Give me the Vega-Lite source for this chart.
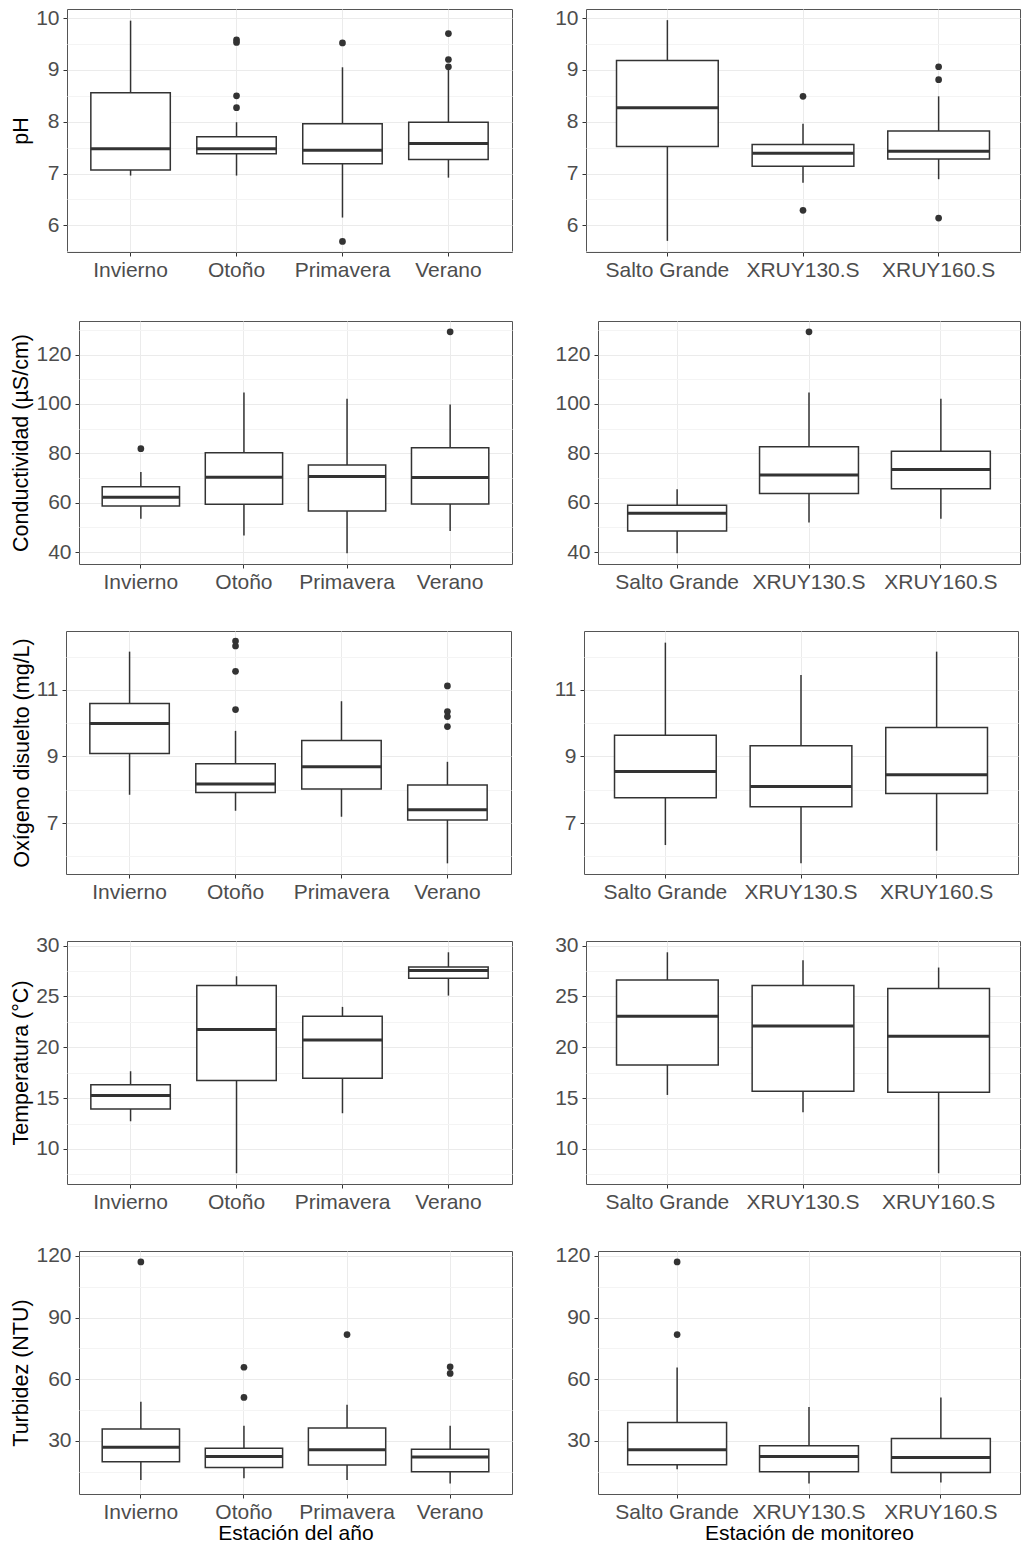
{
"$schema": "https://vega.github.io/schema/vega-lite/v6.json",
"background": "white",
"padding": {"left": 9, "top": 6, "right": 0, "bottom": 0},
"datasets": {
"box": [
{"v":"ph","c":"L","g":"Invierno","lo":6.96,"q1":7.07,"med":7.48,"q3":8.56,"hi":9.95},
{"v":"ph","c":"L","g":"Otoño","lo":6.96,"q1":7.38,"med":7.48,"q3":7.71,"hi":7.99},
{"v":"ph","c":"L","g":"Primavera","lo":6.15,"q1":7.19,"med":7.45,"q3":7.96,"hi":9.05},
{"v":"ph","c":"L","g":"Verano","lo":6.92,"q1":7.27,"med":7.58,"q3":7.99,"hi":9.03},
{"v":"ph","c":"R","g":"Salto Grande","lo":5.70,"q1":7.52,"med":8.27,"q3":9.18,"hi":9.96},
{"v":"ph","c":"R","g":"XRUY130.S","lo":6.82,"q1":7.14,"med":7.39,"q3":7.56,"hi":7.96},
{"v":"ph","c":"R","g":"XRUY160.S","lo":6.89,"q1":7.28,"med":7.43,"q3":7.82,"hi":8.49},
{"v":"cond","c":"L","g":"Invierno","lo":53.5,"q1":58.7,"med":62.2,"q3":66.5,"hi":72.5},
{"v":"cond","c":"L","g":"Otoño","lo":46.7,"q1":59.4,"med":70.3,"q3":80.3,"hi":104.6},
{"v":"cond","c":"L","g":"Primavera","lo":39.6,"q1":56.7,"med":70.6,"q3":75.3,"hi":102.1},
{"v":"cond","c":"L","g":"Verano","lo":48.6,"q1":59.5,"med":70.2,"q3":82.3,"hi":99.8},
{"v":"cond","c":"R","g":"Salto Grande","lo":39.6,"q1":48.6,"med":55.8,"q3":59.0,"hi":65.5},
{"v":"cond","c":"R","g":"XRUY130.S","lo":52.0,"q1":63.7,"med":71.2,"q3":82.7,"hi":104.6},
{"v":"cond","c":"R","g":"XRUY160.S","lo":53.5,"q1":65.7,"med":73.5,"q3":80.9,"hi":102.1},
{"v":"oxy","c":"L","g":"Invierno","lo":7.85,"q1":9.09,"med":9.99,"q3":10.59,"hi":12.15},
{"v":"oxy","c":"L","g":"Otoño","lo":7.37,"q1":7.92,"med":8.17,"q3":8.78,"hi":9.77},
{"v":"oxy","c":"L","g":"Primavera","lo":7.19,"q1":8.02,"med":8.69,"q3":9.48,"hi":10.66},
{"v":"oxy","c":"L","g":"Verano","lo":5.79,"q1":7.09,"med":7.40,"q3":8.14,"hi":8.84},
{"v":"oxy","c":"R","g":"Salto Grande","lo":6.34,"q1":7.76,"med":8.55,"q3":9.64,"hi":12.42},
{"v":"oxy","c":"R","g":"XRUY130.S","lo":5.79,"q1":7.49,"med":8.10,"q3":9.32,"hi":11.45},
{"v":"oxy","c":"R","g":"XRUY160.S","lo":6.17,"q1":7.89,"med":8.45,"q3":9.87,"hi":12.15},
{"v":"temp","c":"L","g":"Invierno","lo":12.72,"q1":13.93,"med":15.25,"q3":16.30,"hi":17.64},
{"v":"temp","c":"L","g":"Otoño","lo":7.61,"q1":16.72,"med":21.74,"q3":26.07,"hi":26.98},
{"v":"temp","c":"L","g":"Primavera","lo":13.51,"q1":16.95,"med":20.72,"q3":23.05,"hi":23.97},
{"v":"temp","c":"L","g":"Verano","lo":25.08,"q1":26.79,"med":27.54,"q3":27.90,"hi":29.34},
{"v":"temp","c":"R","g":"Salto Grande","lo":15.31,"q1":18.26,"med":23.05,"q3":26.62,"hi":29.34},
{"v":"temp","c":"R","g":"XRUY130.S","lo":13.61,"q1":15.67,"med":22.10,"q3":26.07,"hi":28.56},
{"v":"temp","c":"R","g":"XRUY160.S","lo":7.61,"q1":15.57,"med":21.08,"q3":25.77,"hi":27.84},
{"v":"turb","c":"L","g":"Invierno","lo":10.9,"q1":19.8,"med":26.8,"q3":35.8,"hi":49.0},
{"v":"turb","c":"L","g":"Otoño","lo":11.8,"q1":17.0,"med":22.4,"q3":26.4,"hi":37.3},
{"v":"turb","c":"L","g":"Primavera","lo":10.9,"q1":18.2,"med":25.6,"q3":36.2,"hi":47.5},
{"v":"turb","c":"L","g":"Verano","lo":9.2,"q1":14.9,"med":22.1,"q3":25.9,"hi":37.3},
{"v":"turb","c":"R","g":"Salto Grande","lo":16.2,"q1":18.3,"med":25.6,"q3":38.9,"hi":65.7},
{"v":"turb","c":"R","g":"XRUY130.S","lo":9.2,"q1":14.9,"med":22.4,"q3":27.6,"hi":46.4},
{"v":"turb","c":"R","g":"XRUY160.S","lo":9.7,"q1":14.6,"med":21.9,"q3":31.1,"hi":51.1}
],
"out": [
{"v":"ph","c":"L","g":"Otoño","val":9.58},
{"v":"ph","c":"L","g":"Otoño","val":9.53},
{"v":"ph","c":"L","g":"Otoño","val":8.50},
{"v":"ph","c":"L","g":"Otoño","val":8.27},
{"v":"ph","c":"L","g":"Primavera","val":9.52},
{"v":"ph","c":"L","g":"Primavera","val":5.69},
{"v":"ph","c":"L","g":"Verano","val":9.70},
{"v":"ph","c":"L","g":"Verano","val":9.20},
{"v":"ph","c":"L","g":"Verano","val":9.06},
{"v":"ph","c":"R","g":"XRUY130.S","val":8.49},
{"v":"ph","c":"R","g":"XRUY130.S","val":6.29},
{"v":"ph","c":"R","g":"XRUY160.S","val":9.06},
{"v":"ph","c":"R","g":"XRUY160.S","val":8.81},
{"v":"ph","c":"R","g":"XRUY160.S","val":6.14},
{"v":"cond","c":"L","g":"Invierno","val":81.9},
{"v":"cond","c":"L","g":"Verano","val":129.2},
{"v":"cond","c":"R","g":"XRUY130.S","val":129.2},
{"v":"oxy","c":"L","g":"Otoño","val":12.47},
{"v":"oxy","c":"L","g":"Otoño","val":12.32},
{"v":"oxy","c":"L","g":"Otoño","val":11.56},
{"v":"oxy","c":"L","g":"Otoño","val":10.41},
{"v":"oxy","c":"L","g":"Verano","val":11.12},
{"v":"oxy","c":"L","g":"Verano","val":10.35},
{"v":"oxy","c":"L","g":"Verano","val":10.2},
{"v":"oxy","c":"L","g":"Verano","val":9.9},
{"v":"turb","c":"L","g":"Invierno","val":117.1},
{"v":"turb","c":"L","g":"Otoño","val":65.8},
{"v":"turb","c":"L","g":"Otoño","val":51.1},
{"v":"turb","c":"L","g":"Primavera","val":81.7},
{"v":"turb","c":"L","g":"Verano","val":66.0},
{"v":"turb","c":"L","g":"Verano","val":62.8},
{"v":"turb","c":"R","g":"Salto Grande","val":117.1},
{"v":"turb","c":"R","g":"Salto Grande","val":81.7}
],
"empty": []
},
"columns": 1,
"spacing": 31,
"concat": [
{"columns": 1, "spacing": 37, "concat": [
{"spacing": 0, "hconcat": [
{"width":1,"height":1,"data":{"name":"empty"},"mark":"point","view":{"stroke":null}},
{"spacing": 41, "hconcat": [
{"width":445,"height":243,
"encoding":{"x":{"field":"g","type":"nominal","scale":{"domain":["Invierno","Otoño","Primavera","Verano"],"paddingInner":0,"paddingOuter":0.1},"axis":{"title":null,"labelAngle":0,"grid":true,"bandPosition":0.5}}},
"layer":[
{"data":{"name":"box"},"transform":[{"filter":"datum.v==='ph'&&datum.c==='L'"}],"mark":{"type":"rule","color":"#333333","strokeWidth":1.5},"encoding":{"y":{"field":"lo","type":"quantitative","scale":{"domain":[5.485,10.175],"nice":false,"zero":false},"axis":{"title":"pH","values":[5.5,6,6.5,7,7.5,8,8.5,9,9.5,10],"labelOverlap":false,"labelExpr":"abs(datum.value-round(datum.value))<0.01?format(datum.value,'d'):''","tickOpacity":{"condition":{"test":"abs(datum.value-round(datum.value))>=0.01","value":0},"value":1},"gridColor":{"condition":{"test":"abs(datum.value-round(datum.value))>=0.01","value":"#F4F4F4"},"value":"#EBEBEB"}}},"y2":{"field":"hi"}}},
{"data":{"name":"box"},"transform":[{"filter":"datum.v==='ph'&&datum.c==='L'"}],"mark":{"type":"bar","fill":"#ffffff","stroke":"#333333","strokeWidth":1.5,"width":{"band":0.75}},"encoding":{"y":{"field":"q1","type":"quantitative","scale":{"domain":[5.485,10.175],"nice":false,"zero":false},"axis":{"title":"pH","values":[5.5,6,6.5,7,7.5,8,8.5,9,9.5,10],"labelOverlap":false,"labelExpr":"abs(datum.value-round(datum.value))<0.01?format(datum.value,'d'):''","tickOpacity":{"condition":{"test":"abs(datum.value-round(datum.value))>=0.01","value":0},"value":1},"gridColor":{"condition":{"test":"abs(datum.value-round(datum.value))>=0.01","value":"#F4F4F4"},"value":"#EBEBEB"}}},"y2":{"field":"q3"}}},
{"data":{"name":"box"},"transform":[{"filter":"datum.v==='ph'&&datum.c==='L'"}],"mark":{"type":"tick","color":"#333333","thickness":3,"opacity":1,"size":79.5},"encoding":{"y":{"field":"med","type":"quantitative","scale":{"domain":[5.485,10.175],"nice":false,"zero":false},"axis":{"title":"pH","values":[5.5,6,6.5,7,7.5,8,8.5,9,9.5,10],"labelOverlap":false,"labelExpr":"abs(datum.value-round(datum.value))<0.01?format(datum.value,'d'):''","tickOpacity":{"condition":{"test":"abs(datum.value-round(datum.value))>=0.01","value":0},"value":1},"gridColor":{"condition":{"test":"abs(datum.value-round(datum.value))>=0.01","value":"#F4F4F4"},"value":"#EBEBEB"}}}}},
{"data":{"name":"out"},"transform":[{"filter":"datum.v==='ph'&&datum.c==='L'"}],"mark":{"type":"point","filled":true,"color":"#333333","size":45,"opacity":1},"encoding":{"y":{"field":"val","type":"quantitative","scale":{"domain":[5.485,10.175],"nice":false,"zero":false},"axis":{"title":"pH","values":[5.5,6,6.5,7,7.5,8,8.5,9,9.5,10],"labelOverlap":false,"labelExpr":"abs(datum.value-round(datum.value))<0.01?format(datum.value,'d'):''","tickOpacity":{"condition":{"test":"abs(datum.value-round(datum.value))>=0.01","value":0},"value":1},"gridColor":{"condition":{"test":"abs(datum.value-round(datum.value))>=0.01","value":"#F4F4F4"},"value":"#EBEBEB"}}}}}
]},
{"width":434,"height":243,
"encoding":{"x":{"field":"g","type":"nominal","scale":{"domain":["Salto Grande","XRUY130.S","XRUY160.S"],"paddingInner":0,"paddingOuter":0.1},"axis":{"title":null,"labelAngle":0,"grid":true,"bandPosition":0.5}}},
"layer":[
{"data":{"name":"box"},"transform":[{"filter":"datum.v==='ph'&&datum.c==='R'"}],"mark":{"type":"rule","color":"#333333","strokeWidth":1.5},"encoding":{"y":{"field":"lo","type":"quantitative","scale":{"domain":[5.485,10.175],"nice":false,"zero":false},"axis":{"title":null,"values":[5.5,6,6.5,7,7.5,8,8.5,9,9.5,10],"labelOverlap":false,"labelExpr":"abs(datum.value-round(datum.value))<0.01?format(datum.value,'d'):''","tickOpacity":{"condition":{"test":"abs(datum.value-round(datum.value))>=0.01","value":0},"value":1},"gridColor":{"condition":{"test":"abs(datum.value-round(datum.value))>=0.01","value":"#F4F4F4"},"value":"#EBEBEB"}}},"y2":{"field":"hi"}}},
{"data":{"name":"box"},"transform":[{"filter":"datum.v==='ph'&&datum.c==='R'"}],"mark":{"type":"bar","fill":"#ffffff","stroke":"#333333","strokeWidth":1.5,"width":{"band":0.75}},"encoding":{"y":{"field":"q1","type":"quantitative","scale":{"domain":[5.485,10.175],"nice":false,"zero":false},"axis":{"title":null,"values":[5.5,6,6.5,7,7.5,8,8.5,9,9.5,10],"labelOverlap":false,"labelExpr":"abs(datum.value-round(datum.value))<0.01?format(datum.value,'d'):''","tickOpacity":{"condition":{"test":"abs(datum.value-round(datum.value))>=0.01","value":0},"value":1},"gridColor":{"condition":{"test":"abs(datum.value-round(datum.value))>=0.01","value":"#F4F4F4"},"value":"#EBEBEB"}}},"y2":{"field":"q3"}}},
{"data":{"name":"box"},"transform":[{"filter":"datum.v==='ph'&&datum.c==='R'"}],"mark":{"type":"tick","color":"#333333","thickness":3,"opacity":1,"size":101.7},"encoding":{"y":{"field":"med","type":"quantitative","scale":{"domain":[5.485,10.175],"nice":false,"zero":false},"axis":{"title":null,"values":[5.5,6,6.5,7,7.5,8,8.5,9,9.5,10],"labelOverlap":false,"labelExpr":"abs(datum.value-round(datum.value))<0.01?format(datum.value,'d'):''","tickOpacity":{"condition":{"test":"abs(datum.value-round(datum.value))>=0.01","value":0},"value":1},"gridColor":{"condition":{"test":"abs(datum.value-round(datum.value))>=0.01","value":"#F4F4F4"},"value":"#EBEBEB"}}}}},
{"data":{"name":"out"},"transform":[{"filter":"datum.v==='ph'&&datum.c==='R'"}],"mark":{"type":"point","filled":true,"color":"#333333","size":45,"opacity":1},"encoding":{"y":{"field":"val","type":"quantitative","scale":{"domain":[5.485,10.175],"nice":false,"zero":false},"axis":{"title":null,"values":[5.5,6,6.5,7,7.5,8,8.5,9,9.5,10],"labelOverlap":false,"labelExpr":"abs(datum.value-round(datum.value))<0.01?format(datum.value,'d'):''","tickOpacity":{"condition":{"test":"abs(datum.value-round(datum.value))>=0.01","value":0},"value":1},"gridColor":{"condition":{"test":"abs(datum.value-round(datum.value))>=0.01","value":"#F4F4F4"},"value":"#EBEBEB"}}}}}
]}
]}
]},
{"spacing": 0, "hconcat": [
{"width":1,"height":1,"data":{"name":"empty"},"mark":"point","view":{"stroke":null}},
{"spacing": 41, "hconcat": [
{"width":433,"height":243,
"encoding":{"x":{"field":"g","type":"nominal","scale":{"domain":["Invierno","Otoño","Primavera","Verano"],"paddingInner":0,"paddingOuter":0.1},"axis":{"title":null,"labelAngle":0,"grid":true,"bandPosition":0.5}}},
"layer":[
{"data":{"name":"box"},"transform":[{"filter":"datum.v==='cond'&&datum.c==='L'"}],"mark":{"type":"rule","color":"#333333","strokeWidth":1.5},"encoding":{"y":{"field":"lo","type":"quantitative","scale":{"domain":[35.2,133.6],"nice":false,"zero":false},"axis":{"title":"Conductividad (µS/cm)","values":[40,50,60,70,80,90,100,110,120,130],"labelOverlap":false,"labelExpr":"abs(datum.value%20)<0.01?format(datum.value,'d'):''","tickOpacity":{"condition":{"test":"abs(datum.value%20)>=0.01","value":0},"value":1},"gridColor":{"condition":{"test":"abs(datum.value%20)>=0.01","value":"#F4F4F4"},"value":"#EBEBEB"}}},"y2":{"field":"hi"}}},
{"data":{"name":"box"},"transform":[{"filter":"datum.v==='cond'&&datum.c==='L'"}],"mark":{"type":"bar","fill":"#ffffff","stroke":"#333333","strokeWidth":1.5,"width":{"band":0.75}},"encoding":{"y":{"field":"q1","type":"quantitative","scale":{"domain":[35.2,133.6],"nice":false,"zero":false},"axis":{"title":"Conductividad (µS/cm)","values":[40,50,60,70,80,90,100,110,120,130],"labelOverlap":false,"labelExpr":"abs(datum.value%20)<0.01?format(datum.value,'d'):''","tickOpacity":{"condition":{"test":"abs(datum.value%20)>=0.01","value":0},"value":1},"gridColor":{"condition":{"test":"abs(datum.value%20)>=0.01","value":"#F4F4F4"},"value":"#EBEBEB"}}},"y2":{"field":"q3"}}},
{"data":{"name":"box"},"transform":[{"filter":"datum.v==='cond'&&datum.c==='L'"}],"mark":{"type":"tick","color":"#333333","thickness":3,"opacity":1,"size":77.3},"encoding":{"y":{"field":"med","type":"quantitative","scale":{"domain":[35.2,133.6],"nice":false,"zero":false},"axis":{"title":"Conductividad (µS/cm)","values":[40,50,60,70,80,90,100,110,120,130],"labelOverlap":false,"labelExpr":"abs(datum.value%20)<0.01?format(datum.value,'d'):''","tickOpacity":{"condition":{"test":"abs(datum.value%20)>=0.01","value":0},"value":1},"gridColor":{"condition":{"test":"abs(datum.value%20)>=0.01","value":"#F4F4F4"},"value":"#EBEBEB"}}}}},
{"data":{"name":"out"},"transform":[{"filter":"datum.v==='cond'&&datum.c==='L'"}],"mark":{"type":"point","filled":true,"color":"#333333","size":45,"opacity":1},"encoding":{"y":{"field":"val","type":"quantitative","scale":{"domain":[35.2,133.6],"nice":false,"zero":false},"axis":{"title":"Conductividad (µS/cm)","values":[40,50,60,70,80,90,100,110,120,130],"labelOverlap":false,"labelExpr":"abs(datum.value%20)<0.01?format(datum.value,'d'):''","tickOpacity":{"condition":{"test":"abs(datum.value%20)>=0.01","value":0},"value":1},"gridColor":{"condition":{"test":"abs(datum.value%20)>=0.01","value":"#F4F4F4"},"value":"#EBEBEB"}}}}}
]},
{"width":422,"height":243,
"encoding":{"x":{"field":"g","type":"nominal","scale":{"domain":["Salto Grande","XRUY130.S","XRUY160.S"],"paddingInner":0,"paddingOuter":0.1},"axis":{"title":null,"labelAngle":0,"grid":true,"bandPosition":0.5}}},
"layer":[
{"data":{"name":"box"},"transform":[{"filter":"datum.v==='cond'&&datum.c==='R'"}],"mark":{"type":"rule","color":"#333333","strokeWidth":1.5},"encoding":{"y":{"field":"lo","type":"quantitative","scale":{"domain":[35.2,133.6],"nice":false,"zero":false},"axis":{"title":null,"values":[40,50,60,70,80,90,100,110,120,130],"labelOverlap":false,"labelExpr":"abs(datum.value%20)<0.01?format(datum.value,'d'):''","tickOpacity":{"condition":{"test":"abs(datum.value%20)>=0.01","value":0},"value":1},"gridColor":{"condition":{"test":"abs(datum.value%20)>=0.01","value":"#F4F4F4"},"value":"#EBEBEB"}}},"y2":{"field":"hi"}}},
{"data":{"name":"box"},"transform":[{"filter":"datum.v==='cond'&&datum.c==='R'"}],"mark":{"type":"bar","fill":"#ffffff","stroke":"#333333","strokeWidth":1.5,"width":{"band":0.75}},"encoding":{"y":{"field":"q1","type":"quantitative","scale":{"domain":[35.2,133.6],"nice":false,"zero":false},"axis":{"title":null,"values":[40,50,60,70,80,90,100,110,120,130],"labelOverlap":false,"labelExpr":"abs(datum.value%20)<0.01?format(datum.value,'d'):''","tickOpacity":{"condition":{"test":"abs(datum.value%20)>=0.01","value":0},"value":1},"gridColor":{"condition":{"test":"abs(datum.value%20)>=0.01","value":"#F4F4F4"},"value":"#EBEBEB"}}},"y2":{"field":"q3"}}},
{"data":{"name":"box"},"transform":[{"filter":"datum.v==='cond'&&datum.c==='R'"}],"mark":{"type":"tick","color":"#333333","thickness":3,"opacity":1,"size":98.9},"encoding":{"y":{"field":"med","type":"quantitative","scale":{"domain":[35.2,133.6],"nice":false,"zero":false},"axis":{"title":null,"values":[40,50,60,70,80,90,100,110,120,130],"labelOverlap":false,"labelExpr":"abs(datum.value%20)<0.01?format(datum.value,'d'):''","tickOpacity":{"condition":{"test":"abs(datum.value%20)>=0.01","value":0},"value":1},"gridColor":{"condition":{"test":"abs(datum.value%20)>=0.01","value":"#F4F4F4"},"value":"#EBEBEB"}}}}},
{"data":{"name":"out"},"transform":[{"filter":"datum.v==='cond'&&datum.c==='R'"}],"mark":{"type":"point","filled":true,"color":"#333333","size":45,"opacity":1},"encoding":{"y":{"field":"val","type":"quantitative","scale":{"domain":[35.2,133.6],"nice":false,"zero":false},"axis":{"title":null,"values":[40,50,60,70,80,90,100,110,120,130],"labelOverlap":false,"labelExpr":"abs(datum.value%20)<0.01?format(datum.value,'d'):''","tickOpacity":{"condition":{"test":"abs(datum.value%20)>=0.01","value":0},"value":1},"gridColor":{"condition":{"test":"abs(datum.value%20)>=0.01","value":"#F4F4F4"},"value":"#EBEBEB"}}}}}
]}
]}
]},
{"spacing": 0, "hconcat": [
{"width":1,"height":1,"data":{"name":"empty"},"mark":"point","view":{"stroke":null}},
{"spacing": 41, "hconcat": [
{"width":445,"height":243,
"encoding":{"x":{"field":"g","type":"nominal","scale":{"domain":["Invierno","Otoño","Primavera","Verano"],"paddingInner":0,"paddingOuter":0.1},"axis":{"title":null,"labelAngle":0,"grid":true,"bandPosition":0.5}}},
"layer":[
{"data":{"name":"box"},"transform":[{"filter":"datum.v==='oxy'&&datum.c==='L'"}],"mark":{"type":"rule","color":"#333333","strokeWidth":1.5},"encoding":{"y":{"field":"lo","type":"quantitative","scale":{"domain":[5.47,12.77],"nice":false,"zero":false},"axis":{"title":"Oxígeno disuelto (mg/L)","values":[6,7,8,9,10,11,12],"labelOverlap":false,"labelExpr":"abs(datum.value%2-1)<0.01?format(datum.value,'d'):''","tickOpacity":{"condition":{"test":"abs(datum.value%2-1)>=0.01","value":0},"value":1},"gridColor":{"condition":{"test":"abs(datum.value%2-1)>=0.01","value":"#F4F4F4"},"value":"#EBEBEB"}}},"y2":{"field":"hi"}}},
{"data":{"name":"box"},"transform":[{"filter":"datum.v==='oxy'&&datum.c==='L'"}],"mark":{"type":"bar","fill":"#ffffff","stroke":"#333333","strokeWidth":1.5,"width":{"band":0.75}},"encoding":{"y":{"field":"q1","type":"quantitative","scale":{"domain":[5.47,12.77],"nice":false,"zero":false},"axis":{"title":"Oxígeno disuelto (mg/L)","values":[6,7,8,9,10,11,12],"labelOverlap":false,"labelExpr":"abs(datum.value%2-1)<0.01?format(datum.value,'d'):''","tickOpacity":{"condition":{"test":"abs(datum.value%2-1)>=0.01","value":0},"value":1},"gridColor":{"condition":{"test":"abs(datum.value%2-1)>=0.01","value":"#F4F4F4"},"value":"#EBEBEB"}}},"y2":{"field":"q3"}}},
{"data":{"name":"box"},"transform":[{"filter":"datum.v==='oxy'&&datum.c==='L'"}],"mark":{"type":"tick","color":"#333333","thickness":3,"opacity":1,"size":79.5},"encoding":{"y":{"field":"med","type":"quantitative","scale":{"domain":[5.47,12.77],"nice":false,"zero":false},"axis":{"title":"Oxígeno disuelto (mg/L)","values":[6,7,8,9,10,11,12],"labelOverlap":false,"labelExpr":"abs(datum.value%2-1)<0.01?format(datum.value,'d'):''","tickOpacity":{"condition":{"test":"abs(datum.value%2-1)>=0.01","value":0},"value":1},"gridColor":{"condition":{"test":"abs(datum.value%2-1)>=0.01","value":"#F4F4F4"},"value":"#EBEBEB"}}}}},
{"data":{"name":"out"},"transform":[{"filter":"datum.v==='oxy'&&datum.c==='L'"}],"mark":{"type":"point","filled":true,"color":"#333333","size":45,"opacity":1},"encoding":{"y":{"field":"val","type":"quantitative","scale":{"domain":[5.47,12.77],"nice":false,"zero":false},"axis":{"title":"Oxígeno disuelto (mg/L)","values":[6,7,8,9,10,11,12],"labelOverlap":false,"labelExpr":"abs(datum.value%2-1)<0.01?format(datum.value,'d'):''","tickOpacity":{"condition":{"test":"abs(datum.value%2-1)>=0.01","value":0},"value":1},"gridColor":{"condition":{"test":"abs(datum.value%2-1)>=0.01","value":"#F4F4F4"},"value":"#EBEBEB"}}}}}
]},
{"width":434,"height":243,
"encoding":{"x":{"field":"g","type":"nominal","scale":{"domain":["Salto Grande","XRUY130.S","XRUY160.S"],"paddingInner":0,"paddingOuter":0.1},"axis":{"title":null,"labelAngle":0,"grid":true,"bandPosition":0.5}}},
"layer":[
{"data":{"name":"box"},"transform":[{"filter":"datum.v==='oxy'&&datum.c==='R'"}],"mark":{"type":"rule","color":"#333333","strokeWidth":1.5},"encoding":{"y":{"field":"lo","type":"quantitative","scale":{"domain":[5.47,12.77],"nice":false,"zero":false},"axis":{"title":null,"values":[6,7,8,9,10,11,12],"labelOverlap":false,"labelExpr":"abs(datum.value%2-1)<0.01?format(datum.value,'d'):''","tickOpacity":{"condition":{"test":"abs(datum.value%2-1)>=0.01","value":0},"value":1},"gridColor":{"condition":{"test":"abs(datum.value%2-1)>=0.01","value":"#F4F4F4"},"value":"#EBEBEB"}}},"y2":{"field":"hi"}}},
{"data":{"name":"box"},"transform":[{"filter":"datum.v==='oxy'&&datum.c==='R'"}],"mark":{"type":"bar","fill":"#ffffff","stroke":"#333333","strokeWidth":1.5,"width":{"band":0.75}},"encoding":{"y":{"field":"q1","type":"quantitative","scale":{"domain":[5.47,12.77],"nice":false,"zero":false},"axis":{"title":null,"values":[6,7,8,9,10,11,12],"labelOverlap":false,"labelExpr":"abs(datum.value%2-1)<0.01?format(datum.value,'d'):''","tickOpacity":{"condition":{"test":"abs(datum.value%2-1)>=0.01","value":0},"value":1},"gridColor":{"condition":{"test":"abs(datum.value%2-1)>=0.01","value":"#F4F4F4"},"value":"#EBEBEB"}}},"y2":{"field":"q3"}}},
{"data":{"name":"box"},"transform":[{"filter":"datum.v==='oxy'&&datum.c==='R'"}],"mark":{"type":"tick","color":"#333333","thickness":3,"opacity":1,"size":101.7},"encoding":{"y":{"field":"med","type":"quantitative","scale":{"domain":[5.47,12.77],"nice":false,"zero":false},"axis":{"title":null,"values":[6,7,8,9,10,11,12],"labelOverlap":false,"labelExpr":"abs(datum.value%2-1)<0.01?format(datum.value,'d'):''","tickOpacity":{"condition":{"test":"abs(datum.value%2-1)>=0.01","value":0},"value":1},"gridColor":{"condition":{"test":"abs(datum.value%2-1)>=0.01","value":"#F4F4F4"},"value":"#EBEBEB"}}}}}
]}
]}
]}
]},
{"columns": 1, "spacing": 31, "concat": [
{"spacing": 0, "hconcat": [
{"width":1,"height":1,"data":{"name":"empty"},"mark":"point","view":{"stroke":null}},
{"spacing": 41, "hconcat": [
{"width":445,"height":243,
"encoding":{"x":{"field":"g","type":"nominal","scale":{"domain":["Invierno","Otoño","Primavera","Verano"],"paddingInner":0,"paddingOuter":0.1},"axis":{"title":null,"labelAngle":0,"grid":true,"bandPosition":0.5}}},
"layer":[
{"data":{"name":"box"},"transform":[{"filter":"datum.v==='temp'&&datum.c==='L'"}],"mark":{"type":"rule","color":"#333333","strokeWidth":1.5},"encoding":{"y":{"field":"lo","type":"quantitative","scale":{"domain":[6.55,30.45],"nice":false,"zero":false},"axis":{"title":"Temperatura (°C)","values":[7.5,10,12.5,15,17.5,20,22.5,25,27.5,30],"labelOverlap":false,"labelExpr":"abs(datum.value%5)<0.01?format(datum.value,'d'):''","tickOpacity":{"condition":{"test":"abs(datum.value%5)>=0.01","value":0},"value":1},"gridColor":{"condition":{"test":"abs(datum.value%5)>=0.01","value":"#F4F4F4"},"value":"#EBEBEB"}}},"y2":{"field":"hi"}}},
{"data":{"name":"box"},"transform":[{"filter":"datum.v==='temp'&&datum.c==='L'"}],"mark":{"type":"bar","fill":"#ffffff","stroke":"#333333","strokeWidth":1.5,"width":{"band":0.75}},"encoding":{"y":{"field":"q1","type":"quantitative","scale":{"domain":[6.55,30.45],"nice":false,"zero":false},"axis":{"title":"Temperatura (°C)","values":[7.5,10,12.5,15,17.5,20,22.5,25,27.5,30],"labelOverlap":false,"labelExpr":"abs(datum.value%5)<0.01?format(datum.value,'d'):''","tickOpacity":{"condition":{"test":"abs(datum.value%5)>=0.01","value":0},"value":1},"gridColor":{"condition":{"test":"abs(datum.value%5)>=0.01","value":"#F4F4F4"},"value":"#EBEBEB"}}},"y2":{"field":"q3"}}},
{"data":{"name":"box"},"transform":[{"filter":"datum.v==='temp'&&datum.c==='L'"}],"mark":{"type":"tick","color":"#333333","thickness":3,"opacity":1,"size":79.5},"encoding":{"y":{"field":"med","type":"quantitative","scale":{"domain":[6.55,30.45],"nice":false,"zero":false},"axis":{"title":"Temperatura (°C)","values":[7.5,10,12.5,15,17.5,20,22.5,25,27.5,30],"labelOverlap":false,"labelExpr":"abs(datum.value%5)<0.01?format(datum.value,'d'):''","tickOpacity":{"condition":{"test":"abs(datum.value%5)>=0.01","value":0},"value":1},"gridColor":{"condition":{"test":"abs(datum.value%5)>=0.01","value":"#F4F4F4"},"value":"#EBEBEB"}}}}}
]},
{"width":434,"height":243,
"encoding":{"x":{"field":"g","type":"nominal","scale":{"domain":["Salto Grande","XRUY130.S","XRUY160.S"],"paddingInner":0,"paddingOuter":0.1},"axis":{"title":null,"labelAngle":0,"grid":true,"bandPosition":0.5}}},
"layer":[
{"data":{"name":"box"},"transform":[{"filter":"datum.v==='temp'&&datum.c==='R'"}],"mark":{"type":"rule","color":"#333333","strokeWidth":1.5},"encoding":{"y":{"field":"lo","type":"quantitative","scale":{"domain":[6.55,30.45],"nice":false,"zero":false},"axis":{"title":null,"values":[7.5,10,12.5,15,17.5,20,22.5,25,27.5,30],"labelOverlap":false,"labelExpr":"abs(datum.value%5)<0.01?format(datum.value,'d'):''","tickOpacity":{"condition":{"test":"abs(datum.value%5)>=0.01","value":0},"value":1},"gridColor":{"condition":{"test":"abs(datum.value%5)>=0.01","value":"#F4F4F4"},"value":"#EBEBEB"}}},"y2":{"field":"hi"}}},
{"data":{"name":"box"},"transform":[{"filter":"datum.v==='temp'&&datum.c==='R'"}],"mark":{"type":"bar","fill":"#ffffff","stroke":"#333333","strokeWidth":1.5,"width":{"band":0.75}},"encoding":{"y":{"field":"q1","type":"quantitative","scale":{"domain":[6.55,30.45],"nice":false,"zero":false},"axis":{"title":null,"values":[7.5,10,12.5,15,17.5,20,22.5,25,27.5,30],"labelOverlap":false,"labelExpr":"abs(datum.value%5)<0.01?format(datum.value,'d'):''","tickOpacity":{"condition":{"test":"abs(datum.value%5)>=0.01","value":0},"value":1},"gridColor":{"condition":{"test":"abs(datum.value%5)>=0.01","value":"#F4F4F4"},"value":"#EBEBEB"}}},"y2":{"field":"q3"}}},
{"data":{"name":"box"},"transform":[{"filter":"datum.v==='temp'&&datum.c==='R'"}],"mark":{"type":"tick","color":"#333333","thickness":3,"opacity":1,"size":101.7},"encoding":{"y":{"field":"med","type":"quantitative","scale":{"domain":[6.55,30.45],"nice":false,"zero":false},"axis":{"title":null,"values":[7.5,10,12.5,15,17.5,20,22.5,25,27.5,30],"labelOverlap":false,"labelExpr":"abs(datum.value%5)<0.01?format(datum.value,'d'):''","tickOpacity":{"condition":{"test":"abs(datum.value%5)>=0.01","value":0},"value":1},"gridColor":{"condition":{"test":"abs(datum.value%5)>=0.01","value":"#F4F4F4"},"value":"#EBEBEB"}}}}}
]}
]}
]},
{"spacing": 0, "hconcat": [
{"width":1,"height":1,"data":{"name":"empty"},"mark":"point","view":{"stroke":null}},
{"spacing": 41, "hconcat": [
{"width":433,"height":243,
"encoding":{"x":{"field":"g","type":"nominal","scale":{"domain":["Invierno","Otoño","Primavera","Verano"],"paddingInner":0,"paddingOuter":0.1},"axis":{"title":"Estación del año","titlePadding":0,"labelAngle":0,"grid":true,"bandPosition":0.5}}},
"layer":[
{"data":{"name":"box"},"transform":[{"filter":"datum.v==='turb'&&datum.c==='L'"}],"mark":{"type":"rule","color":"#333333","strokeWidth":1.5},"encoding":{"y":{"field":"lo","type":"quantitative","scale":{"domain":[4.1,122.4],"nice":false,"zero":false},"axis":{"title":"Turbidez (NTU)","values":[15,30,45,60,75,90,105,120],"labelOverlap":false,"labelExpr":"abs(datum.value%30)<0.01?format(datum.value,'d'):''","tickOpacity":{"condition":{"test":"abs(datum.value%30)>=0.01","value":0},"value":1},"gridColor":{"condition":{"test":"abs(datum.value%30)>=0.01","value":"#F4F4F4"},"value":"#EBEBEB"}}},"y2":{"field":"hi"}}},
{"data":{"name":"box"},"transform":[{"filter":"datum.v==='turb'&&datum.c==='L'"}],"mark":{"type":"bar","fill":"#ffffff","stroke":"#333333","strokeWidth":1.5,"width":{"band":0.75}},"encoding":{"y":{"field":"q1","type":"quantitative","scale":{"domain":[4.1,122.4],"nice":false,"zero":false},"axis":{"title":"Turbidez (NTU)","values":[15,30,45,60,75,90,105,120],"labelOverlap":false,"labelExpr":"abs(datum.value%30)<0.01?format(datum.value,'d'):''","tickOpacity":{"condition":{"test":"abs(datum.value%30)>=0.01","value":0},"value":1},"gridColor":{"condition":{"test":"abs(datum.value%30)>=0.01","value":"#F4F4F4"},"value":"#EBEBEB"}}},"y2":{"field":"q3"}}},
{"data":{"name":"box"},"transform":[{"filter":"datum.v==='turb'&&datum.c==='L'"}],"mark":{"type":"tick","color":"#333333","thickness":3,"opacity":1,"size":77.3},"encoding":{"y":{"field":"med","type":"quantitative","scale":{"domain":[4.1,122.4],"nice":false,"zero":false},"axis":{"title":"Turbidez (NTU)","values":[15,30,45,60,75,90,105,120],"labelOverlap":false,"labelExpr":"abs(datum.value%30)<0.01?format(datum.value,'d'):''","tickOpacity":{"condition":{"test":"abs(datum.value%30)>=0.01","value":0},"value":1},"gridColor":{"condition":{"test":"abs(datum.value%30)>=0.01","value":"#F4F4F4"},"value":"#EBEBEB"}}}}},
{"data":{"name":"out"},"transform":[{"filter":"datum.v==='turb'&&datum.c==='L'"}],"mark":{"type":"point","filled":true,"color":"#333333","size":45,"opacity":1},"encoding":{"y":{"field":"val","type":"quantitative","scale":{"domain":[4.1,122.4],"nice":false,"zero":false},"axis":{"title":"Turbidez (NTU)","values":[15,30,45,60,75,90,105,120],"labelOverlap":false,"labelExpr":"abs(datum.value%30)<0.01?format(datum.value,'d'):''","tickOpacity":{"condition":{"test":"abs(datum.value%30)>=0.01","value":0},"value":1},"gridColor":{"condition":{"test":"abs(datum.value%30)>=0.01","value":"#F4F4F4"},"value":"#EBEBEB"}}}}}
]},
{"width":422,"height":243,
"encoding":{"x":{"field":"g","type":"nominal","scale":{"domain":["Salto Grande","XRUY130.S","XRUY160.S"],"paddingInner":0,"paddingOuter":0.1},"axis":{"title":"Estación de monitoreo","titlePadding":0,"labelAngle":0,"grid":true,"bandPosition":0.5}}},
"layer":[
{"data":{"name":"box"},"transform":[{"filter":"datum.v==='turb'&&datum.c==='R'"}],"mark":{"type":"rule","color":"#333333","strokeWidth":1.5},"encoding":{"y":{"field":"lo","type":"quantitative","scale":{"domain":[4.1,122.4],"nice":false,"zero":false},"axis":{"title":null,"values":[15,30,45,60,75,90,105,120],"labelOverlap":false,"labelExpr":"abs(datum.value%30)<0.01?format(datum.value,'d'):''","tickOpacity":{"condition":{"test":"abs(datum.value%30)>=0.01","value":0},"value":1},"gridColor":{"condition":{"test":"abs(datum.value%30)>=0.01","value":"#F4F4F4"},"value":"#EBEBEB"}}},"y2":{"field":"hi"}}},
{"data":{"name":"box"},"transform":[{"filter":"datum.v==='turb'&&datum.c==='R'"}],"mark":{"type":"bar","fill":"#ffffff","stroke":"#333333","strokeWidth":1.5,"width":{"band":0.75}},"encoding":{"y":{"field":"q1","type":"quantitative","scale":{"domain":[4.1,122.4],"nice":false,"zero":false},"axis":{"title":null,"values":[15,30,45,60,75,90,105,120],"labelOverlap":false,"labelExpr":"abs(datum.value%30)<0.01?format(datum.value,'d'):''","tickOpacity":{"condition":{"test":"abs(datum.value%30)>=0.01","value":0},"value":1},"gridColor":{"condition":{"test":"abs(datum.value%30)>=0.01","value":"#F4F4F4"},"value":"#EBEBEB"}}},"y2":{"field":"q3"}}},
{"data":{"name":"box"},"transform":[{"filter":"datum.v==='turb'&&datum.c==='R'"}],"mark":{"type":"tick","color":"#333333","thickness":3,"opacity":1,"size":98.9},"encoding":{"y":{"field":"med","type":"quantitative","scale":{"domain":[4.1,122.4],"nice":false,"zero":false},"axis":{"title":null,"values":[15,30,45,60,75,90,105,120],"labelOverlap":false,"labelExpr":"abs(datum.value%30)<0.01?format(datum.value,'d'):''","tickOpacity":{"condition":{"test":"abs(datum.value%30)>=0.01","value":0},"value":1},"gridColor":{"condition":{"test":"abs(datum.value%30)>=0.01","value":"#F4F4F4"},"value":"#EBEBEB"}}}}},
{"data":{"name":"out"},"transform":[{"filter":"datum.v==='turb'&&datum.c==='R'"}],"mark":{"type":"point","filled":true,"color":"#333333","size":45,"opacity":1},"encoding":{"y":{"field":"val","type":"quantitative","scale":{"domain":[4.1,122.4],"nice":false,"zero":false},"axis":{"title":null,"values":[15,30,45,60,75,90,105,120],"labelOverlap":false,"labelExpr":"abs(datum.value%30)<0.01?format(datum.value,'d'):''","tickOpacity":{"condition":{"test":"abs(datum.value%30)>=0.01","value":0},"value":1},"gridColor":{"condition":{"test":"abs(datum.value%30)>=0.01","value":"#F4F4F4"},"value":"#EBEBEB"}}}}}
]}
]}
]}
]}
],
"config": {
"font": "Liberation Sans",
"view": {"stroke": "#555555", "strokeWidth": 1},
"axis": {"labelFont": "Liberation Sans", "labelFontSize": 21, "labelColor": "#4D4D4D", "titleFont": "Liberation Sans", "titleFontSize": 21.5, "titleFontWeight": "normal", "titleColor": "#000000", "tickColor": "#333333", "tickSize": 4, "tickWidth": 1, "domain": false, "gridColor": "#EBEBEB", "gridWidth": 1},
"axisX": {"labelPadding": 3, "titlePadding": 0, "titleFontSize": 21},
"axisY": {"labelPadding": 4, "titlePadding": 3}
}
}
